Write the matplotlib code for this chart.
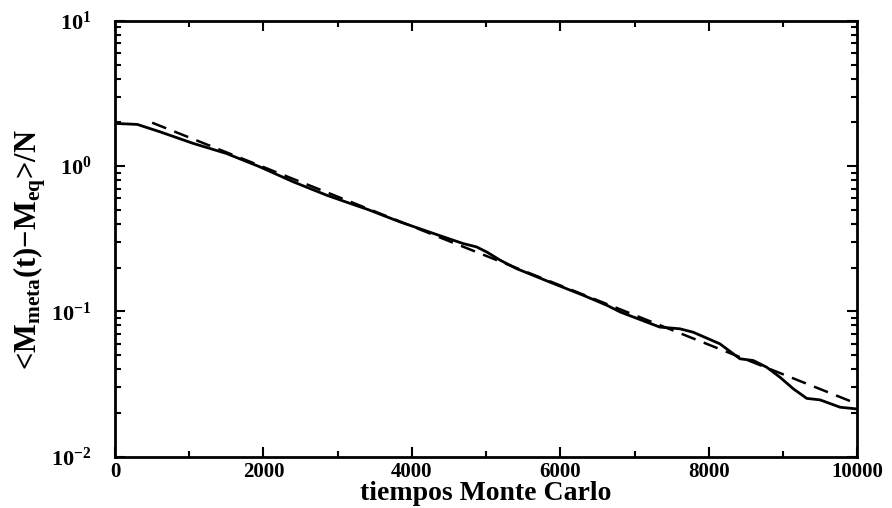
"""Relaxation of the metastable magnetisation: MC data (solid) vs exponential fit (dashed).
Run: python plot.py -> out.png"""
import numpy as np, matplotlib
matplotlib.use("Agg"); import matplotlib.pyplot as plt
from matplotlib.ticker import LogLocator, MultipleLocator, NullFormatter

plt.rcParams.update({
    'font.family': 'Liberation Serif', 'font.weight': 'bold',
    'mathtext.fontset': 'custom', 'mathtext.rm': 'Liberation Serif:bold',
    'mathtext.bf': 'Liberation Serif:bold', 'mathtext.it': 'Liberation Serif:bold',
})

# Monte Carlo average <M_meta(t) - M_eq>/N
t_mc = [0, 300, 600, 1050, 1500, 1950, 2400, 2850, 3170, 3410, 3840, 4290, 4690, 4870,
        5010, 5190, 5410, 5860, 6310, 6630, 6810, 7340, 7610, 7790, 8150, 8420, 8600,
        8780, 8960, 9140, 9320, 9500, 9770, 10000]
m_mc = [1.968, 1.936, 1.726, 1.435, 1.222, 0.989, 0.780, 0.631, 0.553, 0.502, 0.413,
        0.344, 0.293, 0.278, 0.256, 0.225, 0.197, 0.159, 0.129, 0.110, 0.0989, 0.0780,
        0.0759, 0.0719, 0.0598, 0.0472, 0.0459, 0.0413, 0.0352, 0.0293, 0.0252, 0.0246,
        0.0219, 0.0213]
# exponential fit (straight on log axis), endpoints
t_fit = [500, 10000]
m_fit = [1.99, 0.0231]

fig = plt.figure(figsize=(8.92, 5.08), dpi=100)
ax = fig.add_axes([0.129, 0.101, 0.832, 0.858])
ax.plot(t_mc, m_mc, 'k-', lw=2.0)
ax.plot(t_fit, m_fit, 'k--', lw=1.8, dashes=(6, 3.5))
ax.set_yscale('log')
ax.set_xlim(0, 10000); ax.set_ylim(1e-2, 1e1)
ax.xaxis.set_major_locator(MultipleLocator(2000))
ax.xaxis.set_minor_locator(MultipleLocator(1000))
ax.yaxis.set_major_locator(LogLocator(base=10, numticks=10))
ax.yaxis.set_minor_locator(LogLocator(base=10, subs=np.arange(2, 10), numticks=10))
ax.yaxis.set_minor_formatter(NullFormatter())
ax.tick_params(which='both', direction='in', top=True, right=True, width=1.5)
ax.tick_params(which='major', length=7)
ax.tick_params(which='minor', length=4)
ax.tick_params(axis='x', labelsize=15, pad=4)
ax.tick_params(axis='y', labelsize=16, pad=17)
for s in ax.spines.values(): s.set_linewidth(2.0)
ax.set_xlabel('tiempos Monte Carlo', fontsize=20, fontweight='bold')
ax.xaxis.set_label_coords(0.5, -0.055)
ax.set_ylabel(r'<M$_{\rm meta}$(t)$-$M$_{\rm eq}$>/N', fontsize=22, fontweight='bold')
ax.yaxis.set_label_coords(-0.09, 0.475)
fig.savefig('out.png', dpi=100)
